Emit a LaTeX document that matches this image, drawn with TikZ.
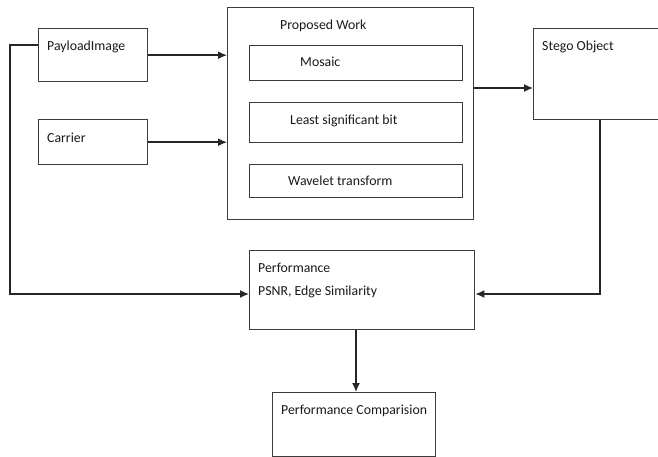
\documentclass[tikz,border=0pt]{standalone}
\usepackage{fontspec}
\setmainfont{Carlito}
\usetikzlibrary{arrows.meta,calc}
\definecolor{linegray}{HTML}{3C3C3C}
\tikzset{
  box/.style={draw=linegray, line width=1.4pt, rectangle, inner sep=0pt, anchor=north west},
  txt/.style={anchor=west, inner sep=0pt, font=\fontsize{13.8}{15}\selectfont, text=black!90},
  link/.style={draw=black!85, line width=1.4pt},
  arr/.style={link, -{Latex[length=9pt,width=8pt]}}
}
\begin{document}
\begin{tikzpicture}[x=1pt,y=-1pt]
  \useasboundingbox (0,0) rectangle (658,457);

  % input boxes
  \node[box, minimum width=109pt, minimum height=53pt] (payload) at (38,28) {};
  \node[txt] (payloadT) at (47,47) {PayloadImage};
  \node[box, minimum width=109pt, minimum height=45pt] (carrier) at (38,119) {};
  \node[txt] (carrierT) at (47,138) {Carrier};

  % proposed work with its three methods
  \node[box, minimum width=246pt, minimum height=212pt] (proposed) at (227,7) {};
  \node[txt] (proposedT) at (280,26) {Proposed Work};
  \node[box, minimum width=213pt, minimum height=35pt] (mosaic) at (249,45) {};
  \node[txt] (mosaicT) at (300,62) {Mosaic};
  \node[box, minimum width=213pt, minimum height=40pt] (lsb) at (249,102) {};
  \node[txt] (lsbT) at (290,121) {Least significant bit};
  \node[box, minimum width=213pt, minimum height=33pt] (wavelet) at (249,164) {};
  \node[txt] (waveletT) at (288,181) {Wavelet transform};

  % output
  \node[box, minimum width=140pt, minimum height=91pt] (stego) at (533,28) {};
  \node[txt] (stegoT) at (542,47) {Stego Object};

  % evaluation
  \node[box, minimum width=225pt, minimum height=79pt] (perf) at (249,250) {};
  \node[txt] (perfT) at (258,268) {Performance};
  \node[txt] (perfT2) at (258,292) {PSNR, Edge Similarity};
  \node[box, minimum width=163pt, minimum height=64pt] (comp) at (272,392) {};
  \node[txt] (compT) at (281,411) {Performance Comparision};

  % helper points for the routed connectors
  \coordinate (outP) at (proposed.east |- 0,88);
  \coordinate (fbL) at (10,294);
  \coordinate (fbR) at (600,294);

  % connectors
  \draw[arr] (payload.east) -- (payload.east -| proposed.west);
  \draw[arr] (carrier.east) -- (carrier.east -| proposed.west);
  \draw[arr] (outP) -- (outP -| stego.west);
  \draw[arr] (payload.west |- 0,45) -| (fbL) -- (fbL -| perf.west);
  \draw[arr] (stego.south -| fbR) -- (fbR) -- (fbR -| perf.east);
  \draw[arr] (perf.south -| 356,0) -- (comp.north -| 356,0);
\end{tikzpicture}
\end{document}
